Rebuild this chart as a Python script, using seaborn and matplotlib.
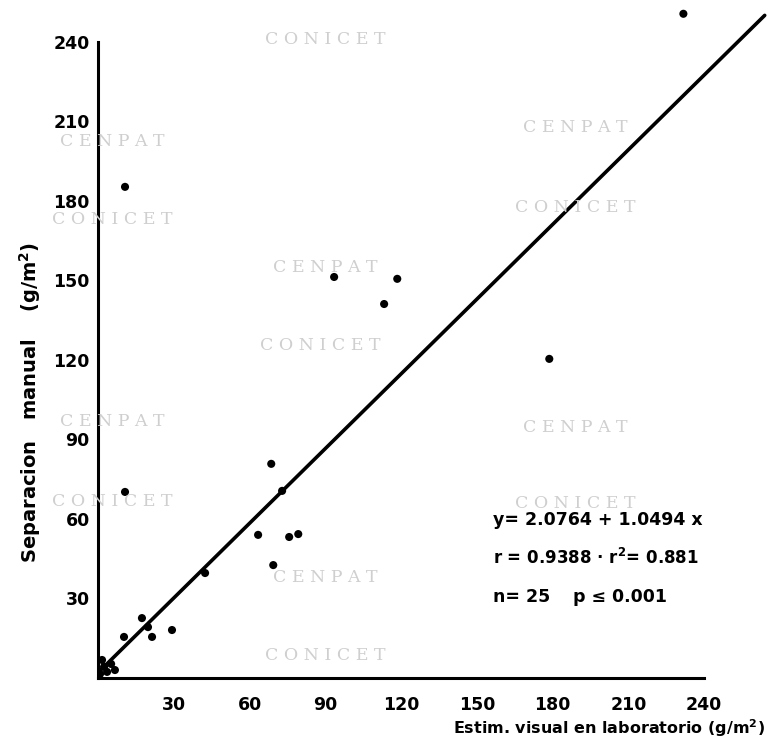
import matplotlib
matplotlib.use("Agg")
import matplotlib.pyplot as plt
import seaborn as sns
import pandas as pd
from matplotlib.ticker import MultipleLocator

# ---- data ----
estim_visual = [231.8, 93.5, 118.5, 113.3, 178.7, 68.6, 63.4, 75.7, 79.3, 69.4,
                17.4, 10.3, 21.4, 29.3, 10.7, 10.7, 72.9, 42.4, 19.8,
                1.6, 3.6, 6.7, 2.4, 5.2, 0.8]
separacion_manual = [250.6, 151.3, 150.6, 141.1, 120.4, 80.8, 54.0, 53.2, 54.3, 42.6,
                     22.6, 15.5, 15.5, 18.1, 70.2, 185.3, 70.6, 39.6, 19.2,
                     6.8, 2.3, 3.0, 4.2, 5.3, 1.5]
line_x = [0, 264]
line_y = [2, 250]
tick_values = [30, 60, 90, 120, 150, 180, 210, 240]
tick_labels = ["30", "60", "90", "120", "150", "180", "210", "240"]
stats_lines = ["y= 2.0764 + 1.0494 x", "r = 0.9388 · r$^\\mathbf{2}$= 0.881", "n= 25", "p ≤ 0.001"]
watermarks = [("CONICET", 325, 40), ("CENPAT", 112, 141), ("CONICET", 112, 219),
              ("CENPAT", 575, 128), ("CONICET", 575, 208), ("CENPAT", 325, 268),
              ("CONICET", 320, 345), ("CENPAT", 112, 421), ("CONICET", 112, 501),
              ("CENPAT", 575, 428), ("CONICET", 575, 503), ("CENPAT", 325, 578),
              ("CONICET", 325, 655)]

df = pd.DataFrame({"x": estim_visual, "y": separacion_manual})
df_line = pd.DataFrame({"x": line_x, "y": line_y})

sns.set_style("white")
plt.rcParams["font.family"] = ["DejaVu Sans"]
plt.rcParams["text.color"] = "black"

W, H = 769, 750
fig = plt.figure(figsize=(W / 100, H / 100), dpi=100)

# watermarks (behind everything)
for txt, px, py in watermarks:
    fig.text(px / W, 1 - py / H, " ".join(txt), color="#cfcfcf", fontsize=12.5,
             family="DejaVu Serif", ha="center", va="center", zorder=0)

ax = fig.add_axes([98 / W, 72 / H, (W - 98) / W, 678 / H])
ax.patch.set_alpha(0)

sns.lineplot(data=df_line, x="x", y="y", ax=ax, color="black", lw=2.6)
sns.scatterplot(data=df, x="x", y="y", ax=ax, color="black", s=34,
                edgecolor="none", zorder=5)

ax.set_xlim(0, 265.7)
ax.set_ylim(0, 255.8)
for s in ["top", "right"]:
    ax.spines[s].set_visible(False)
for s in ["left", "bottom"]:
    ax.spines[s].set_linewidth(2.2)
    ax.spines[s].set_color("black")
    ax.spines[s].set_bounds(0, 240)

ax.set_xticks(tick_values)
ax.set_xticklabels(tick_labels, fontweight="bold")
ax.set_yticks(tick_values)
ax.set_yticklabels(tick_labels, fontweight="bold")
ax.xaxis.set_minor_locator(MultipleLocator(10))
ax.yaxis.set_minor_locator(MultipleLocator(10))
ax.tick_params(axis="both", which="major", direction="in", length=6, width=1.8,
               labelsize=12.5, colors="black")
ax.tick_params(axis="both", which="minor", direction="in", length=4, width=1.5,
               colors="black")
ax.tick_params(axis="x", which="major", pad=13)
ax.tick_params(axis="y", which="major", pad=6)
ax.set_xlabel("")
ax.set_ylabel("")

fig.text(765 / W, 1 - 728 / H, "Estim. visual en laboratorio (g/m$^\\mathbf{2}$)",
         ha="right", va="center", fontsize=11.5, fontweight="bold")
fig.text(30 / W, 1 - 402 / H, "Separacion   manual    (g/m$^\\mathbf{2}$)", rotation=90,
         ha="center", va="center", fontsize=14, fontweight="bold")

fs = 12.5
fig.text(493 / W, 1 - 520 / H, stats_lines[0], ha="left", va="center", fontsize=fs,
         fontweight="bold")
fig.text(493 / W, 1 - 558 / H, stats_lines[1], ha="left", va="center", fontsize=12,
         fontweight="bold")
fig.text(493 / W, 1 - 597 / H, stats_lines[2], ha="left", va="center", fontsize=fs,
         fontweight="bold")
fig.text(573 / W, 1 - 597 / H, stats_lines[3], ha="left", va="center", fontsize=fs,
         fontweight="bold")

fig.savefig("out.png", dpi=100)
